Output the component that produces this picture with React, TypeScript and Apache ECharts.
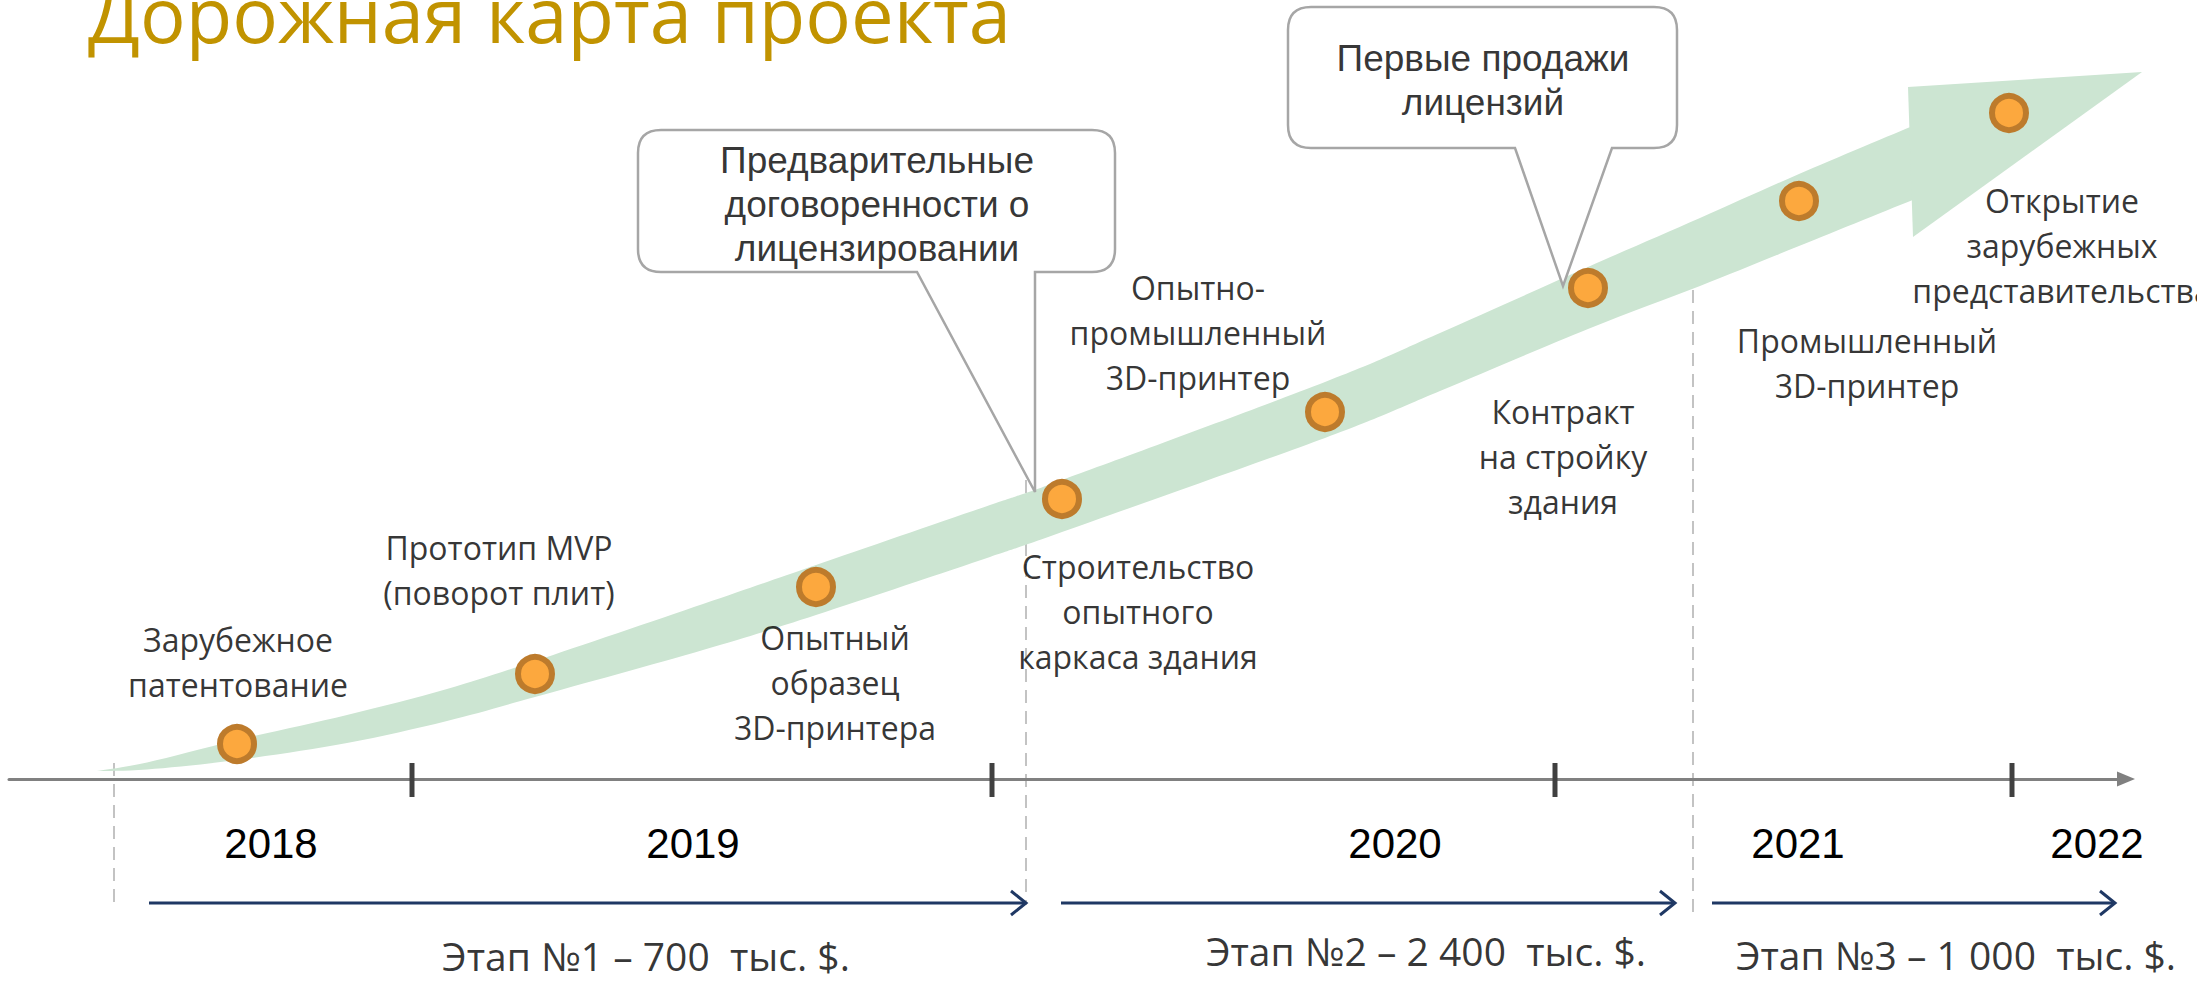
import React, { useEffect, useRef } from 'react';
import * as echarts from 'echarts';

const W = 2197;
const H = 982;

// ---------- data ----------
const titleText = 'Дорожная карта проекта';

// green growth band: centre line and half thickness (diagram units)
const bandX = [97, 147, 237, 347, 447, 535, 703, 816, 990, 1062, 1325, 1440, 1588, 1700, 1799, 1915];
const bandMid = [771, 766, 750, 729, 705, 679, 627, 590, 531, 506, 410, 362, 298, 252, 210, 162];
const bandHalf = [0, 3.5, 10, 14, 16, 18, 23, 25, 26, 26, 28, 29, 31, 34, 36, 37];
const arrowHead = [1908, 87, 2142, 72, 1913, 237];

// milestones
const milestoneX = [237, 535, 816, 1062, 1325, 1588, 1799, 2009];
const milestoneY = [744, 674, 587, 499, 412, 288, 201, 113];
const milestoneLabels = [
  'Зарубежное\nпатентование',
  'Прототип MVP\n(поворот плит)',
  'Опытный\nобразец\n3D-принтера',
  'Строительство\nопытного\nкаркаса здания',
  'Опытно-\nпромышленный\n3D-принтер',
  'Контракт\nна стройку\nздания',
  'Промышленный\n3D-принтер',
  'Открытие\nзарубежных\nпредставительства',
];
const milestoneLabelX = [238, 499, 835, 1138, 1198, 1563, 1867, 2062];
const milestoneLabelY = [662, 570, 682, 611, 332, 456, 363, 245];

// callouts
const calloutText = ['Предварительные\nдоговоренности о\nлицензировании', 'Первые продажи\nлицензий'];
const calloutBox = [
  [638, 130, 1115, 272],
  [1288, 7, 1677, 148],
];
const calloutTail = [
  [917, 1035, 1035, 492],
  [1515, 1612, 1563, 286],
];
const calloutTextX = [877, 1483];
const calloutTextY = [204, 80];

// timeline
const axisY = 779;
const years = ['2018', '2019', '2020', '2021', '2022'];
const yearX = [271, 693, 1395, 1798, 2097];
const tickX = [412, 992, 1555, 2012];
const tickTop = 763;
const tickBottom = 797;
const dashX = [114, 1026, 1693];
const dashTop = [763, 480, 290];
const dashBottom = [905, 905, 917];

// stages
const stageLabels = ['Этап №1 – 700  тыс. $.', 'Этап №2 – 2 400  тыс. $.', 'Этап №3 – 1 000  тыс. $.'];
const stageStart = [149, 1061, 1712];
const stageEnd = [1026, 1675, 2115];
const stageY = 903;
const stageLabelX = [646, 1426, 1956];
const stageLabelY = [955, 950, 954];

// ---------- styles ----------
const GREEN = '#CCE5D2';
const ORANGE = '#FCA83E';
const ORANGE_DARK = '#BD7B2C';
const NAVY = '#1F3864';
const GOLD = '#C19300';
const SANS = "'Open Sans', 'Noto Sans', sans-serif";
const ARIAL = "'Liberation Sans', Arial, sans-serif";

function catmull(pts: number[][]): string {
  let d = '';
  const n = pts.length;
  for (let i = 0; i < n - 1; i++) {
    const p0 = pts[Math.max(i - 1, 0)];
    const p1 = pts[i];
    const p2 = pts[i + 1];
    const p3 = pts[Math.min(i + 2, n - 1)];
    const c1 = [p1[0] + (p2[0] - p0[0]) / 6, p1[1] + (p2[1] - p0[1]) / 6];
    const c2 = [p2[0] - (p3[0] - p1[0]) / 6, p2[1] - (p3[1] - p1[1]) / 6];
    d += ` C${c1[0]},${c1[1]} ${c2[0]},${c2[1]} ${p2[0]},${p2[1]}`;
  }
  return d;
}

function textSeries(names: string[], xs: number[], ys: number[], font: string, size: number, lh: number): any {
  return {
    type: 'scatter',
    z: 9,
    silent: true,
    symbolSize: 1,
    itemStyle: { color: 'rgba(0,0,0,0)' },
    label: {
      show: true,
      position: 'inside',
      formatter: (p: any) => p.name,
      fontFamily: font,
      fontSize: size,
      lineHeight: lh,
      color: '#000',
      align: 'center',
      verticalAlign: 'middle',
    },
    data: names.map((t, i) => ({ name: t, value: [xs[i], ys[i]] })),
  };
}

function buildOption(): any {
  return {
    animation: false,
    backgroundColor: '#ffffff',
    title: {
      text: titleText,
      left: 88,
      top: -25,
      padding: 0,
      textStyle: { fontFamily: SANS, fontSize: 76, lineHeight: 76, fontWeight: 'normal', color: GOLD },
    },
    grid: [
      { left: 0, top: 0, width: W, height: H, outerBoundsMode: 'none' },
      { left: 9, top: 0, width: 2126 - 9, height: axisY, outerBoundsMode: 'none' },
    ],
    xAxis: [
      { type: 'value', gridIndex: 0, min: 0, max: W, show: false },
      {
        type: 'value',
        gridIndex: 1,
        min: 9,
        max: 2126,
        position: 'bottom',
        z: 4,
        axisLine: {
          show: true,
          onZero: false,
          symbol: ['none', 'triangle'],
          symbolSize: [15, 18],
          lineStyle: { color: '#808080', width: 3 },
        },
        axisTick: { show: false },
        splitLine: { show: false },
        axisLabel: {
          customValues: yearX,
          formatter: (v: number) => years[yearX.indexOf(v)] ?? '',
          margin: 43,
          fontSize: 42,
          lineHeight: 42,
          fontFamily: ARIAL,
          color: '#000',
          hideOverlap: false,
        },
      },
    ],
    yAxis: [
      { type: 'value', gridIndex: 0, min: 0, max: H, inverse: true, show: false },
      { type: 'value', gridIndex: 1, min: 0, max: 1, show: false },
    ],
    series: [
      {
        type: 'line',
        xAxisIndex: 1,
        yAxisIndex: 1,
        data: [],
        silent: true,
      },
      // dashed separators (behind band)
      {
        type: 'custom',
        z: 1,
        silent: true,
        encode: { x: 0, y: [1, 2] },
        data: dashX.map((x, i) => [x, dashTop[i], dashBottom[i]]),
        renderItem: (_p: any, api: any) => {
          const a = api.coord([api.value(0), api.value(1)]);
          const b = api.coord([api.value(0), api.value(2)]);
          return {
            type: 'line',
            shape: { x1: a[0], y1: a[1], x2: b[0], y2: b[1] },
            style: { stroke: '#C3C3C3', lineWidth: 2, lineDash: [13, 8] },
          };
        },
      },
      // band (one smooth outline through all band points)
      {
        type: 'custom',
        z: 3,
        silent: true,
        encode: { x: 0, y: 1 },
        data: bandX.map((x, i) => [x, bandMid[i], bandHalf[i]]),
        renderItem: (params: any, api: any) => {
          if (params.dataIndexInside !== 0) return null;
          const n = bandX.length;
          const upper: number[][] = [];
          const lower: number[][] = [];
          for (let j = 0; j < n; j++) {
            const x = api.value(0, j);
            const m = api.value(1, j);
            const h = api.value(2, j);
            upper.push(api.coord([x, m - h]));
            lower.push(api.coord([x, m + h]));
          }
          lower.reverse();
          const d =
            `M${upper[0][0]},${upper[0][1]}` +
            catmull(upper) +
            ` L${lower[0][0]},${lower[0][1]}` +
            catmull(lower) +
            ' Z';
          return { type: 'path', shape: { pathData: d }, style: { fill: GREEN } };
        },
      },
      {
        type: 'custom',
        z: 3,
        silent: true,
        encode: { x: [0, 2, 4], y: [1, 3, 5] },
        data: [arrowHead],
        renderItem: (_p: any, api: any) => {
          const pts = [0, 1, 2].map((k) => api.coord([api.value(2 * k), api.value(2 * k + 1)]));
          return { type: 'polygon', shape: { points: pts }, style: { fill: GREEN } };
        },
      },
      // ticks on timeline
      {
        type: 'custom',
        z: 6,
        silent: true,
        encode: { x: 0, y: [1, 2] },
        data: tickX.map((x) => [x, tickTop, tickBottom]),
        renderItem: (_p: any, api: any) => {
          const a = api.coord([api.value(0), api.value(1)]);
          const b = api.coord([api.value(0), api.value(2)]);
          return {
            type: 'line',
            shape: { x1: a[0], y1: a[1], x2: b[0], y2: b[1] },
            style: { stroke: '#404040', lineWidth: 5 },
          };
        },
      },
      // stage arrows
      {
        type: 'custom',
        z: 6,
        silent: true,
        encode: { x: [0, 1], y: 2 },
        data: stageStart.map((s, i) => [s, stageEnd[i], stageY]),
        renderItem: (_p: any, api: any) => {
          const s = api.coord([api.value(0), api.value(2)]);
          const e = api.coord([api.value(1), api.value(2)]);
          return {
            type: 'group',
            children: [
              {
                type: 'line',
                shape: { x1: s[0], y1: s[1], x2: e[0] - 1, y2: e[1] },
                style: { stroke: NAVY, lineWidth: 3 },
              },
              {
                type: 'polyline',
                shape: { points: [[e[0] - 15, e[1] - 12], [e[0], e[1]], [e[0] - 15, e[1] + 12]] },
                style: { stroke: NAVY, lineWidth: 3, fill: 'none' },
              },
            ],
          };
        },
      },
      // callouts
      {
        type: 'custom',
        z: 7,
        silent: true,
        encode: { x: [0, 2, 4, 5, 6], y: [1, 3, 7] },
        data: calloutBox.map((b, i) => b.concat(calloutTail[i])),
        renderItem: (_p: any, api: any) => {
          const p0 = api.coord([api.value(0), api.value(1)]);
          const p1 = api.coord([api.value(2), api.value(3)]);
          const b1 = api.coord([api.value(4), api.value(3)]);
          const b2 = api.coord([api.value(5), api.value(3)]);
          const t = api.coord([api.value(6), api.value(7)]);
          const r = 23;
          const [x0, y0] = p0;
          const [x1, y1] = p1;
          const d =
            `M${x0 + r},${y0} L${x1 - r},${y0} Q${x1},${y0} ${x1},${y0 + r} ` +
            `L${x1},${y1 - r} Q${x1},${y1} ${x1 - r},${y1} ` +
            `L${b2[0]},${y1} L${t[0]},${t[1]} L${b1[0]},${y1} ` +
            `L${x0 + r},${y1} Q${x0},${y1} ${x0},${y1 - r} ` +
            `L${x0},${y0 + r} Q${x0},${y0} ${x0 + r},${y0} Z`;
          return {
            type: 'path',
            shape: { pathData: d },
            style: { fill: '#ffffff', stroke: '#A6A6A6', lineWidth: 2.5 },
          };
        },
      },
      // milestones
      {
        type: 'scatter',
        z: 8,
        silent: true,
        symbol: 'circle',
        symbolSize: 34,
        itemStyle: { color: ORANGE, borderColor: ORANGE_DARK, borderWidth: 6, opacity: 1 },
        data: milestoneX.map((x, i) => [x, milestoneY[i]]),
      },
      textSeries(milestoneLabels, milestoneLabelX, milestoneLabelY, SANS, 32, 45),
      textSeries(calloutText, calloutTextX, calloutTextY, ARIAL, 37, 44),
      textSeries(stageLabels, stageLabelX, stageLabelY, SANS, 39, 40),
    ],
  };
}

export default function App() {
  const ref = useRef<HTMLDivElement>(null);
  useEffect(() => {
    if (!ref.current) return;
    const chart = echarts.init(ref.current, null, { renderer: 'svg' });
    chart.setOption(buildOption());
    return () => chart.dispose();
  }, []);
  return (
    <div
      ref={ref}
      style={{ position: 'fixed', left: 0, top: 0, width: W, height: H, background: '#ffffff' }}
    />
  );
}
